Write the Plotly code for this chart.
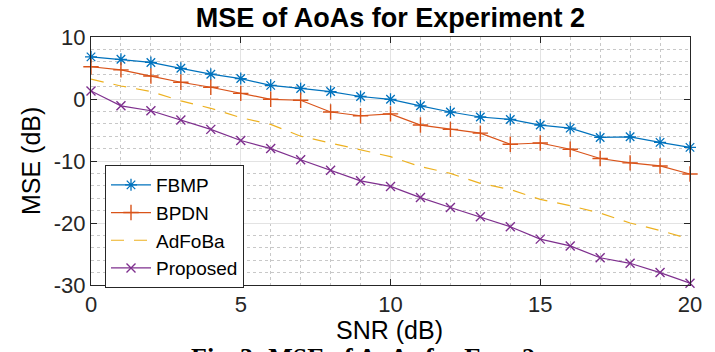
import plotly.graph_objects as go

snr = list(range(0, 21))
fbmp = [6.8, 6.4, 5.9, 4.95, 4.0, 3.3, 2.2, 1.7, 1.2, 0.4, -0.05,
        -1.1, -2.1, -2.9, -3.3, -4.2, -4.7, -6.2, -6.1, -7.0, -7.8]
bpdn = [5.2, 4.7, 3.7, 2.7, 1.9, 0.9, -0.05, -0.2, -2.1, -2.7, -2.4,
        -4.2, -4.9, -5.5, -7.3, -7.1, -8.1, -9.6, -10.3, -10.8, -12.1]
adfoba = [3.2, 2.1, 1.2, -0.3, -1.5, -3.0, -4.1, -6.0, -7.1, -8.2, -9.3,
          -10.9, -12.0, -13.6, -14.6, -16.2, -17.2, -18.4, -20.0, -21.2, -22.6]
proposed = [1.3, -1.1, -1.9, -3.4, -4.9, -6.7, -8.0, -9.8, -11.5, -13.2, -14.1,
            -15.9, -17.5, -19.0, -20.6, -22.6, -23.7, -25.6, -26.5, -28.0, -29.7]

x_ticks = [0, 5, 10, 15, 20]
x_ticklabels = ["0", "5", "10", "15", "20"]
y_ticks = [-30, -20, -10, 0, 10]
y_ticklabels = ["-30", "-20", "-10", "0", "10"]

title_text = "MSE of AoAs for Experiment 2"
x_title = "SNR (dB)"
y_title = "MSE (dB)"
caption = "Fig. 3: MSE of AoAs for Exp. 2"

FONT = "Liberation Sans, Arial, sans-serif"
AX = "#262626"

fig = go.Figure()
fig.add_trace(go.Scatter(x=snr, y=fbmp, name="FBMP", mode="lines+markers",
                         line=dict(color="#0072BD", width=1.2),
                         marker=dict(symbol="asterisk-open", size=10,
                                     line=dict(color="#0072BD", width=1.3)),
                         cliponaxis=False))
fig.add_trace(go.Scatter(x=snr, y=bpdn, name="BPDN", mode="lines+markers",
                         line=dict(color="#D95319", width=1.2),
                         marker=dict(symbol="cross-thin-open", size=11,
                                     line=dict(color="#D95319", width=1.4)),
                         cliponaxis=False))
fig.add_trace(go.Scatter(x=snr, y=adfoba, name="AdFoBa", mode="lines",
                         line=dict(color="#EDB120", width=1.2, dash="13px,10px"),
                         cliponaxis=False))
fig.add_trace(go.Scatter(x=snr, y=proposed, name="Proposed", mode="lines+markers",
                         line=dict(color="#7E2F8E", width=1.2),
                         marker=dict(symbol="x-thin-open", size=9,
                                     line=dict(color="#7E2F8E", width=1.4)),
                         cliponaxis=False))

axis_common = dict(
    showline=True, linecolor=AX, linewidth=1, mirror="ticks",
    ticks="inside", ticklen=6, tickcolor=AX, tickwidth=1,
    showgrid=True, gridcolor="#e3e3e3", gridwidth=1,
    zeroline=False, automargin=False,
    tickfont=dict(family=FONT, size=22, color=AX),
)

fig.update_xaxes(range=[0, 20], tickvals=x_ticks, ticktext=x_ticklabels,
                 minor=dict(dtick=1, tick0=0, showgrid=True, gridcolor="#c8c8c8",
                            griddash="dot", gridwidth=1, ticks=""),
                 **axis_common)
fig.update_yaxes(range=[-30, 10], tickvals=y_ticks, ticktext=y_ticklabels,
                 minor=dict(dtick=2, tick0=0, showgrid=True, gridcolor="#c8c8c8",
                            griddash="dot", gridwidth=1, ticks=""),
                 **axis_common)

# pixel helpers for paper coordinates (plot area: x 91..690, y 37..285)
def py(pix):
    return (285 - pix) / 248.0

def px(pix):
    return (pix - 91) / 599.0

fig.update_layout(
    width=715, height=352,
    margin=dict(l=91, r=25, t=37, b=67),
    paper_bgcolor="white", plot_bgcolor="white",
    title=dict(text="<b>" + title_text + "</b>", x=0.546, xanchor="center",
               y=0.95, yanchor="middle",
               font=dict(family=FONT, size=27, color="black")),
    showlegend=True,
    legend=dict(x=px(105), y=py(165), xanchor="left", yanchor="top",
                bgcolor="white", bordercolor=AX, borderwidth=1,
                font=dict(family=FONT, size=19, color="black"),
                tracegroupgap=0, itemwidth=40),
    annotations=[
        dict(text=x_title, xref="paper", yref="paper", x=px(389), y=py(330),
             xanchor="center", yanchor="middle", showarrow=False,
             font=dict(family=FONT, size=25, color="black")),
        dict(text=y_title, xref="paper", yref="paper", x=px(31), y=py(161),
             xanchor="center", yanchor="middle", showarrow=False, textangle=-90,
             font=dict(family=FONT, size=25, color="black")),
        dict(text="<b>" + caption + "</b>", xref="paper", yref="paper",
             x=px(363), y=py(357), xanchor="center", yanchor="middle",
             showarrow=False,
             font=dict(family="Liberation Serif, Times New Roman, serif",
                       size=26, color="black")),
    ],
)

fig.write_html("out.html", config={"displayModeBar": False},
               post_script="document.body.style.margin='0';document.body.style.overflow='hidden';")
